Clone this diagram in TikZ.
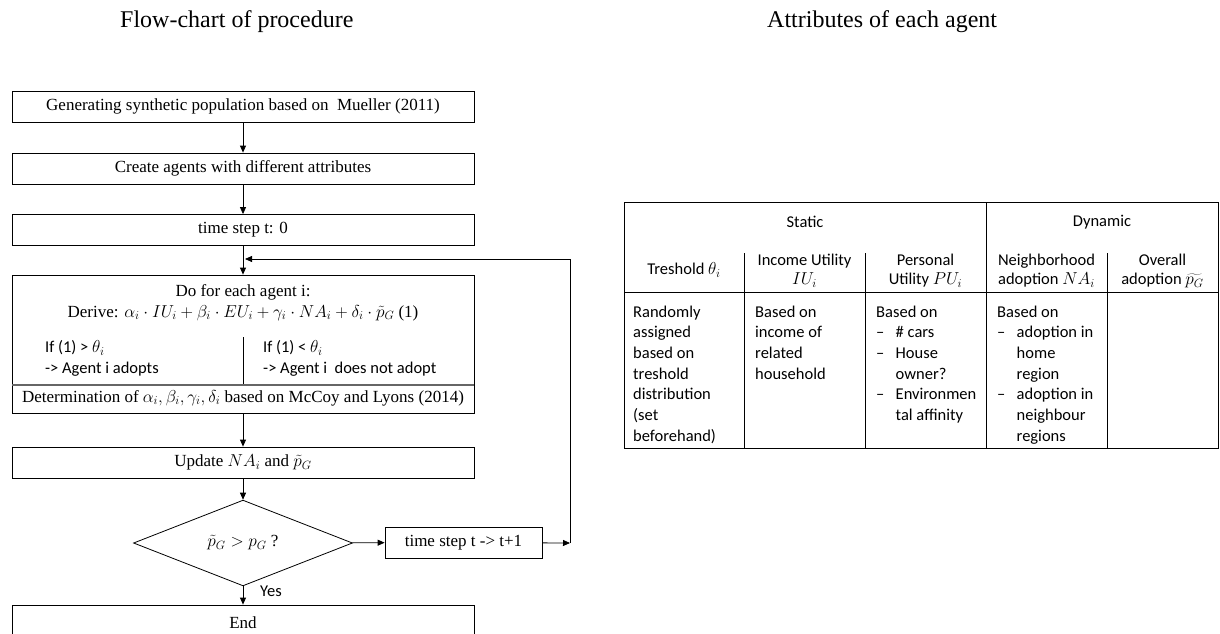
\documentclass[tikz,border=0pt]{standalone}
\usepackage{fontspec}
\setmainfont{Liberation Serif}
\newfontfamily\calfont{Carlito}
\usetikzlibrary{arrows.meta,shapes.geometric}
\newcommand\lidash{\makebox[19.5pt][l]{–}}
\newcommand\liind{\hspace*{19.5pt}}
\begin{document}
\begin{tikzpicture}[x=1pt,y=-1pt,
  box/.style={draw, line width=0.8pt, minimum width=462pt, minimum height=31pt, inner sep=0pt, font=\fontsize{17}{20}\selectfont},
  ser/.style={font=\fontsize{17}{20}\selectfont, inner sep=0pt},
  cal/.style={font=\calfont\fontsize{16.5}{20.7}\selectfont, inner sep=0pt},
  body/.style={cal, anchor=north west, align=left},
  hdr/.style={font=\calfont\fontsize{16.5}{19}\selectfont, inner sep=0pt, align=center},
  ttl/.style={font=\fontsize{24}{29}\selectfont, inner sep=0pt, anchor=base west},
  arr/.style={-{Triangle[length=7pt,width=6pt]}, line width=0.8pt},
  tl/.style={line width=0.9pt}]
\useasboundingbox (0,0) rectangle (1220,634);

% titles
\node[ttl] (title1) at (120,28) {Flow-chart of procedure};
\node[ttl] (title2) at (767,28) {Attributes of each agent};

% flowchart
\node[box] (b1) at (243,106.5) {Generating synthetic population based on\ \ Mueller (2011)};
\node[box] (b2) at (243,168.5) {Create agents with different attributes};
\node[box] (b3) at (243,230) {time step t: 0};
\node[box, minimum height=138pt] (b4) at (243,344) {};
\node[ser] (t1) at (243,292) {Do for each agent i:};
\node[ser] (t2) at (243,313) {Derive: $\alpha_i\cdot IU_i+\beta_i\cdot EU_i+\gamma_i\cdot NA_i+\delta_i\cdot\tilde{p}_G$ (1)};
\node[cal, anchor=west] (t3) at (45,348) {If (1) > $\theta_i$};
\node[cal, anchor=west] (t4) at (45,369) {-> Agent i adopts};
\node[cal, anchor=west] (t5) at (263,348) {If (1) < $\theta_i$};
\node[cal, anchor=west] (t6) at (263,369) {-> Agent i\ \ does not adopt};
\draw[line width=0.8pt] (243,337) -- (243,385);
\draw[line width=1.2pt, black!60] (12,385) -- (474,385);
\node[ser] (t7) at (243,398) {Determination of $\alpha_i,\beta_i,\gamma_i,\delta_i$ based on McCoy and Lyons (2014)};
\node[box] (b5) at (243,462.5) {Update $NA_i$ and $\tilde{p}_G$};
\node[diamond, draw, line width=0.8pt, minimum width=219pt, minimum height=68pt, inner sep=0pt, font=\fontsize{17}{20}\selectfont] (dec) at (243,543) {$\tilde{p}_G > p_G$ ?};
\node[box, minimum width=157pt] (ts) at (463.5,542.5) {time step t -> t+1};
\node[box, minimum height=36pt] (end) at (243,623) {End};
\node[cal] (yes) at (271,591) {Yes};

\coordinate (c1) at (570,543);
\coordinate (c2) at (570,259);
\coordinate (c3) at (245,259);
\draw[arr] (b1) -- (b2);
\draw[arr] (b2) -- (b3);
\draw[arr] (b3) -- (b4);
\draw[arr] (b4) -- (b5);
\draw[arr] (b5) -- (dec);
\draw[arr] (dec) -- (ts);
\draw[arr] (dec) -- (end);
\draw[arr] (ts) -- (c1);
\draw[arr] (c1) -- (c2) -- (c3);

% table
\draw[tl] (624,202) rectangle (1218,448);
\draw[tl] (624,292) -- (1218,292);
\draw[tl] (986,202) -- (986,448);
\foreach \xx in {744,865,1107} \draw[tl] (\xx,253) -- (\xx,448);
\node[cal] (hs) at (805,222) {Static};
\node[cal] (hd) at (1102,222) {Dynamic};
\node[hdr] (h1) at (684,270) {Treshold $\theta_i$};
\node[hdr] (h2) at (804.5,271) {Income Utility\\$IU_i$};
\node[hdr] (h3) at (925.5,271) {Personal\\Utility $PU_i$};
\node[hdr] (h4) at (1046.5,271) {Neighborhood\\adoption $NA_i$};
\node[hdr] (h5) at (1162.5,271) {Overall\\adoption $\widetilde{p_G}$};
\node[body] (r1) at (633,305.5) {Randomly\\assigned\\based on\\treshold\\distribution\\(set\\beforehand)};
\node[body] (r2) at (755,305.5) {Based on\\income of\\related\\household};
\node[body] (r3) at (876,305.5) {Based on\\\lidash\# cars\\\lidash House\\\liind owner?\\\lidash Environmen\\\liind tal affinity};
\node[body] (r4) at (997,305.5) {Based on\\\lidash adoption in\\\liind home\\\liind region\\\lidash adoption in\\\liind neighbour\\\liind regions};
\end{tikzpicture}
\end{document}
